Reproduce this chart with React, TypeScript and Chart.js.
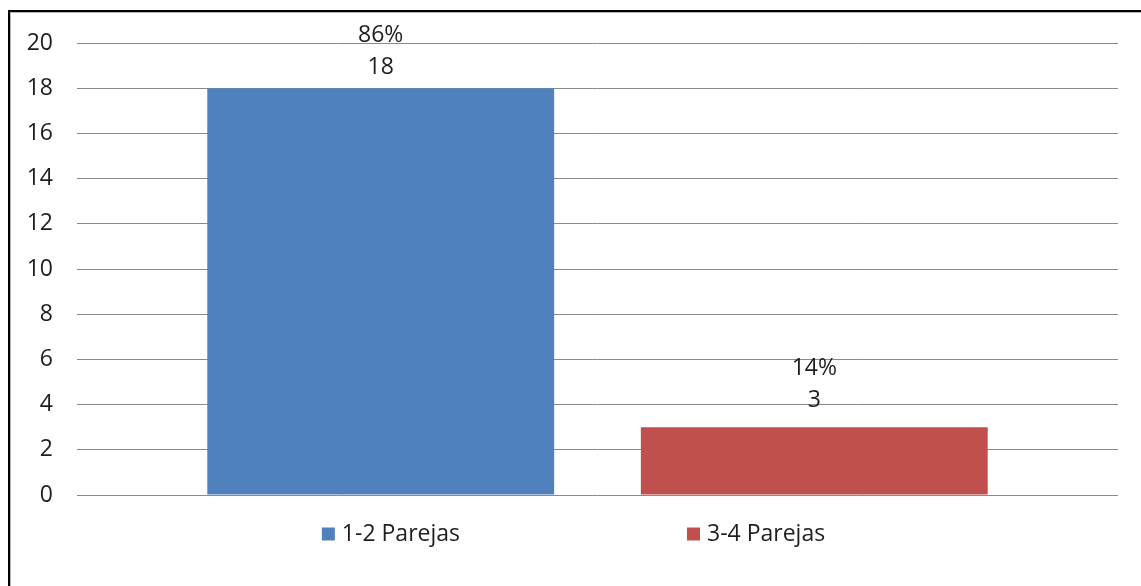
import React, { useEffect, useRef } from "react";
import { Chart, registerables } from "chart.js";

Chart.register(...registerables);

const categories: string[] = [""];
const seriesNames: string[] = ["1-2 Parejas", "3-4 Parejas"];
const seriesValues: number[] = [18, 3];
const seriesColors: string[] = ["#4F81BD", "#C0504D"];
const yTicks: number[] = [0, 2, 4, 6, 8, 10, 12, 14, 16, 18, 20];

const FONT = "'Open Sans', 'Noto Sans', sans-serif";
const TEXT = "#1e1e1e";
const FS = 23;

const labelPlugin = {
  id: "barLabels",
  afterDatasetsDraw(chart: any) {
    const ctx = chart.ctx;
    const total = seriesValues.reduce((a, b) => a + b, 0);
    ctx.save();
    ctx.font = `${FS}px ${FONT}`;
    ctx.fillStyle = TEXT;
    ctx.textAlign = "center";
    ctx.textBaseline = "middle";
    chart.data.datasets.forEach((ds: any, i: number) => {
      const meta = chart.getDatasetMeta(i);
      const el = meta.data[0];
      if (!el) return;
      const v = ds.data[0];
      const pct = Math.round((v / total) * 100) + "%";
      let pctY = el.y - 59;
      let valY = el.y - 27;
      const minY = chart.chartArea.top - 8;
      if (pctY < minY) {
        const d = minY - pctY;
        pctY += d;
        valY += d;
      }
      ctx.fillText(pct, el.x, pctY);
      ctx.fillText(String(v), el.x, valY);
    });
    ctx.restore();
  },
};

const legendPlugin = {
  id: "customLegend",
  afterDraw(chart: any) {
    const ctx = chart.ctx;
    ctx.save();
    ctx.font = `${FS}px ${FONT}`;
    ctx.textBaseline = "middle";
    const box = 13;
    const gapBoxText = 7;
    const gapItems = 227;
    const widths = seriesNames.map((n) => box + gapBoxText + ctx.measureText(n).width);
    const total = widths.reduce((a, b) => a + b, 0) + gapItems * (seriesNames.length - 1);
    let x = chart.width / 2 + 3 - total / 2;
    const y = 534;
    seriesNames.forEach((n, i) => {
      ctx.fillStyle = seriesColors[i];
      ctx.fillRect(x, y - box / 2, box, box);
      ctx.fillStyle = TEXT;
      ctx.textAlign = "left";
      ctx.fillText(n, x + box + gapBoxText, y);
      x += widths[i] + gapItems;
    });
    ctx.restore();
  },
};

export default function App() {
  const ref = useRef<HTMLCanvasElement>(null);
  useEffect(() => {
    if (!ref.current) return;
    const chart = new Chart(ref.current, {
      type: "bar",
      data: {
        labels: categories,
        datasets: seriesNames.map((name, i) => ({
          label: name,
          data: [seriesValues[i]],
          backgroundColor: seriesColors[i],
          borderWidth: 0,
          categoryPercentage: 0.833,
          barPercentage: 0.8,
        })),
      },
      options: {
        animation: false,
        responsive: false,
        maintainAspectRatio: false,
        layout: { padding: { left: 0, right: 23, top: 43, bottom: 91 } },
        plugins: {
          legend: { display: false },
          tooltip: { enabled: false },
          title: { display: false },
        },
        scales: {
          x: { display: false },
          y: {
            min: 0,
            max: 20,
            afterFit(scale: any) {
              scale.width = 77;
            },
            afterBuildTicks(scale: any) {
              scale.ticks = yTicks.map((v) => ({ value: v }));
            },
            border: { display: false },
            grid: { color: "#8a8a8a", lineWidth: 1, drawTicks: false },
            ticks: {
              padding: 24,
              color: TEXT,
              font: { family: FONT, size: FS },
            },
          },
        },
      },
      plugins: [labelPlugin, legendPlugin],
    });
    return () => chart.destroy();
  }, []);

  return (
    <div style={{ position: "fixed", left: 0, top: 0, width: 1141, height: 586, background: "#fff", overflow: "hidden" }}>
      <canvas ref={ref} width={1141} height={586} style={{ position: "absolute", left: 0, top: 0, width: 1141, height: 586 }} />
      <div style={{ position: "absolute", left: 8, top: 10, width: 1133, height: 2, background: "#000" }} />
      <div style={{ position: "absolute", left: 10, top: 12, width: 1131, height: 1, background: "#b4b4b4" }} />
      <div style={{ position: "absolute", left: 8, top: 10, width: 2, height: 576, background: "#000" }} />
      <div style={{ position: "absolute", left: 10, top: 12, width: 1, height: 574, background: "#b4b4b4" }} />
    </div>
  );
}
